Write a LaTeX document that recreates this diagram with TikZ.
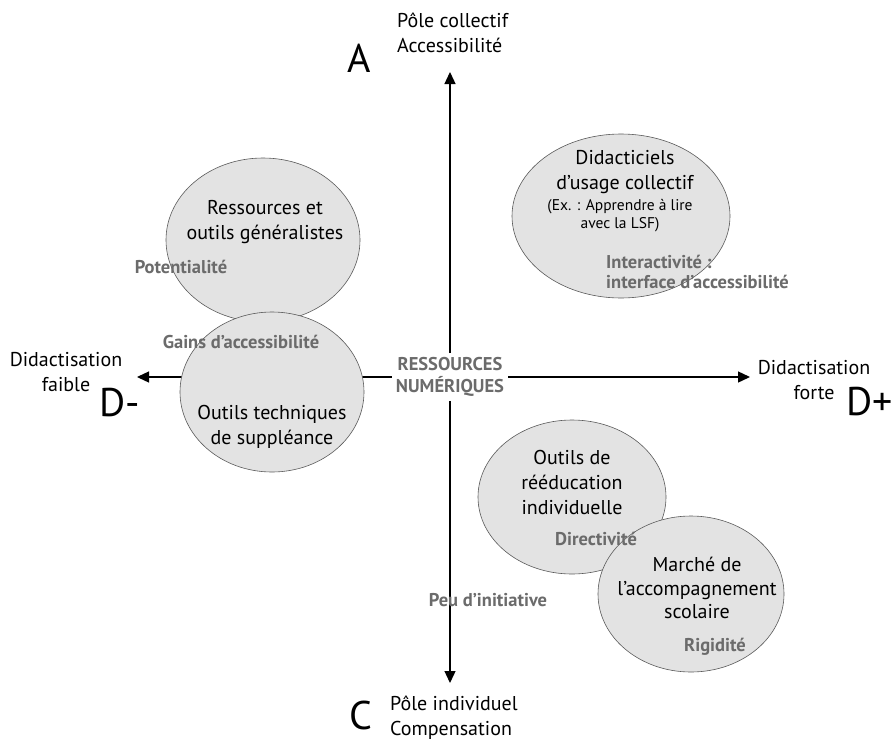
\documentclass[tikz,border=0pt]{standalone}
\usepackage{fontspec}
\setmainfont{PT Sans}
\usetikzlibrary{arrows.meta, positioning, shapes.geometric}
\definecolor{bubblefill}{HTML}{E3E3E3}
\definecolor{bubbleline}{HTML}{5A5A5A}
\definecolor{tagtext}{HTML}{6B6B6B}

\begin{document}
\begin{tikzpicture}[x=1pt, y=-1pt,
  font=\fontsize{20}{25}\selectfont,
  axis/.style={-{Triangle[length=12pt, width=11pt]}, line width=1.3pt},
  bubble/.style={ellipse, draw=bubbleline, fill=bubblefill, line width=0.6pt, inner sep=0pt},
  txt/.style={align=center, inner sep=0pt},
  tag/.style={font=\fontsize{18.5}{20}\selectfont\bfseries, text=tagtext, inner sep=0pt},
  big/.style={font=\fontsize{40}{40}\selectfont, inner sep=0pt}]

  \useasboundingbox (0,0) rectangle (896,744);

  % axes
  \node[font=\fontsize{18.5}{22}\selectfont\bfseries, text=tagtext, align=center,
        inner sep=4pt] (res) at (450,377) {RESSOURCES\\NUMÉRIQUES};
  \coordinate (top) at (450,72);
  \coordinate (bot) at (450,683);
  \coordinate (lft) at (137,377);
  \coordinate (rgt) at (750,377);
  \draw[axis] (res) -- (top);
  \draw[axis] (res) -- (bot);
  \draw[axis] (res) -- (lft);
  \draw[axis] (res) -- (rgt);

  % poles
  \node[txt, align=left, anchor=west] (pA) at (397,33) {Pôle collectif\\Accessibilité};
  \node[big] (A) at (359,58) {A};
  \node[txt, align=left, anchor=west] (pC) at (390,718) {Pôle individuel\\Compensation};
  \node[big] (C) at (361,715) {C};
  \node[txt] (dF) at (66,372) {Didactisation\\faible};
  \node[big] (Dm) at (120,403) {D-};
  \node[txt] (dS) at (814,380) {Didactisation\\forte};
  \node[big] (Dp) at (870,402) {D+};

  % bubbles
  \node[bubble, minimum width=194pt, minimum height=164pt] (gen) at (263,240) {};
  \node[bubble, minimum width=184pt, minimum height=160pt] (sup) at (272,392) {};
  \node[bubble, minimum width=218pt, minimum height=164pt] (did) at (621,216) {};
  \node[bubble, minimum width=188pt, minimum height=154pt] (ree) at (572,497) {};
  \node[bubble, minimum width=186pt, minimum height=156pt] (mar) at (691,594) {};

  \node[txt] (genT) at (265,222) {Ressources et\\outils généralistes};
  \node[txt] (supT) at (272,427) {Outils techniques\\de suppléance};
  \node[txt] (didT) at (625,172) {Didacticiels\\d’usage collectif};
  \node[txt, font=\fontsize{15.5}{18}\selectfont] (didE) at (620,216)
    {(Ex. : Apprendre à lire\\avec la LSF)};
  \node[txt] (reeT) at (572,482) {Outils de\\rééducation\\individuelle};
  \node[txt, font=\fontsize{20}{23.5}\selectfont] (marT) at (697,588)
    {Marché de\\l’accompagnement\\scolaire};

  % qualities
  \node[tag] (pot) at (181,267) {Potentialité};
  \node[tag] (gai) at (241,342) {Gains d’accessibilité};
  \node[tag, align=left, anchor=west] (int) at (606,272)
    {Interactivité :\\interface d’accessibilité};
  \node[tag] (dir) at (596,539) {Directivité};
  \node[tag] (rig) at (715,647) {Rigidité};
  \node[tag] (peu) at (488,600) {Peu d’initiative};
\end{tikzpicture}
\end{document}
